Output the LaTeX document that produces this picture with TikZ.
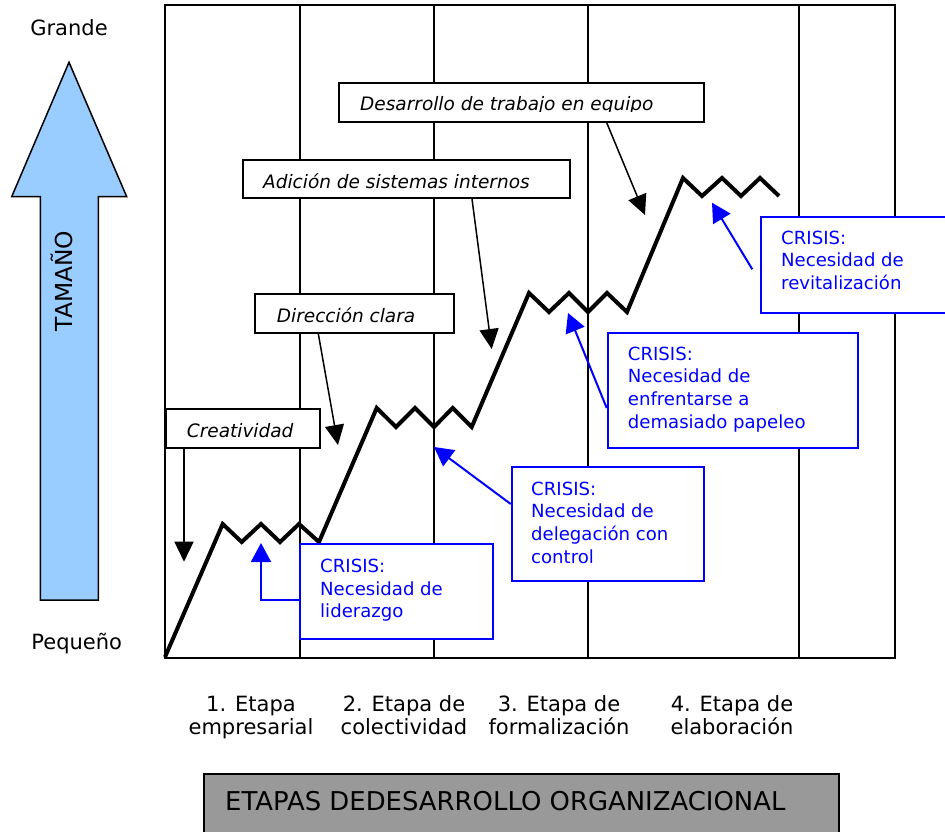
\documentclass[tikz,border=0pt]{standalone}
\usepackage{fontspec}
\setmainfont{DejaVu Sans}
\usetikzlibrary{arrows.meta,calc}
\definecolor{arrowblue}{RGB}{153,204,255}
\definecolor{boxgray}{RGB}{153,153,153}
\definecolor{crisisblue}{RGB}{0,0,255}
\tikzset{
  frameline/.style={line width=2pt},
  lbox/.style={draw, fill=white, line width=2pt, inner sep=0pt, anchor=north west},
  itx/.style={inner sep=0pt, anchor=base west, font=\fontsize{18.5}{22}\selectfont\itshape},
  bbox/.style={draw=crisisblue, fill=white, line width=2pt, inner sep=0pt, anchor=north west},
  btx/.style={inner sep=0pt, anchor=base west, text=crisisblue, font=\fontsize{18.1}{22.7}\selectfont},
  blk/.style={line width=1.5pt, -{Triangle[length=20pt,width=19pt]}},
  blu/.style={draw=crisisblue, line width=2pt, -{Triangle[length=19pt,width=20pt]}},
  zig/.style={line width=4pt},
  stage/.style={inner sep=0pt, anchor=base, font=\fontsize{21}{22}\selectfont},
  side/.style={inner sep=0pt, anchor=base, font=\fontsize{21}{24}\selectfont},
}
\begin{document}
\begin{tikzpicture}[x=1pt,y=-1pt]
\clip (0,0) rectangle (945,832);
\fill[white] (0,0) rectangle (945,832);

% size arrow
\draw[line width=1.5pt, fill=arrowblue] (69,62.3) -- (126.7,196.7) -- (98.3,196.7) -- (98.3,600)
  -- (40.3,600) -- (40.3,196.7) -- (11.7,196.7) -- cycle;
\node[side, rotate=90, font=\fontsize{23.4}{26}\selectfont] (tam) at (72,281) {TAMAÑO};
\node[side] (grande) at (69,35.7) {Grande};
\node[side] (peq) at (76.7,649) {Pequeño};

% frame
\draw[frameline] (165,5) rectangle (895,658);
\foreach \x in {300,434,588,799} \draw[frameline] (\x,5) -- (\x,658);

% black label boxes
\node[lbox, minimum width=365.3, minimum height=38.7] (des) at (337.7,82) {};
\begin{scope}\clip (des.north west) rectangle ($(des.south east)+(0,-11.4)$);
\node[itx] (desT) at (360,111) {Desarrollo de trabajo en equipo};
\end{scope}
\node[lbox, minimum width=327.3, minimum height=38.3] (adi) at (241.7,158.7) {};
\begin{scope}\clip (adi.north west) rectangle ($(adi.south east)+(0,-9.7)$);
\node[itx] (adiT) at (263,188) {Adición de sistemas internos};
\end{scope}
\node[lbox, minimum width=199, minimum height=38.7] (dir) at (254,293) {};
\begin{scope}\clip (dir.north west) rectangle ($(dir.south east)+(0,-10.7)$);
\node[itx] (dirT) at (276.7,322) {Dirección clara};
\end{scope}
\node[lbox, minimum width=154, minimum height=38.7] (cre) at (165,408) {};
\begin{scope}\clip (cre.north west) rectangle ($(cre.south east)+(0,-11.7)$);
\node[itx] (creT) at (186.7,437) {Creatividad};
\end{scope}

% growth line
\draw[zig] (165,657) -- (222.7,524) -- (241.7,542) -- (261,524) -- (280,542) -- (299,524) -- (319,542)
  -- (376.7,408) -- (396,427) -- (415,408) -- (434,427) -- (452.7,408) -- (471.7,427)
  -- (529,293) -- (549,312) -- (569,293) -- (588,312) -- (607,293) -- (627,312)
  -- (683,178) -- (702,196) -- (722,178) -- (741,196) -- (760,178) -- (779,196);

% black arrows
\coordinate (creP) at (184,561.7);
\coordinate (dirP) at (338,445);
\coordinate (adiP) at (491.7,349);
\coordinate (desP) at (645,215);
\draw[blk] (cre.south -| creP) -- (creP);
\draw[blk] ($(dir.south west)+(64.3,0)$) -- (dirP);
\draw[blk] ($(adi.south west)+(230.3,0)$) -- (adiP);
\draw[blk] ($(des.south west)+(269,0)$) -- (desP);

% crisis boxes
\node[bbox, minimum width=193, minimum height=95.3] (lid) at (299.3,542.7) {};
\node[btx] (lidT) at (320,572.3) {\begin{tabular}[t]{@{}l@{}}CRISIS:\\Necesidad de\\liderazgo\end{tabular}};
\node[bbox, minimum width=192.3, minimum height=114] (del) at (510.7,466) {};
\node[btx] (delT) at (531,495) {\begin{tabular}[t]{@{}l@{}}CRISIS:\\Necesidad de\\delegación con\\control\end{tabular}};
\node[bbox, minimum width=250, minimum height=115] (enf) at (606.7,331.7) {};
\node[btx] (enfT) at (627.7,360) {\begin{tabular}[t]{@{}l@{}}CRISIS:\\Necesidad de\\enfrentarse a\\demasiado papeleo\end{tabular}};
\node[bbox, minimum width=200, minimum height=95.7] (rev) at (760,216) {};
\node[btx] (revT) at (781,244) {\begin{tabular}[t]{@{}l@{}}CRISIS:\\Necesidad de\\revitalización\end{tabular}};

% blue arrows
\coordinate (lidP) at (261,543);
\coordinate (delP) at (434,447);
\coordinate (enfP) at (568,313);
\coordinate (revP) at (712,202.7);
\coordinate (revS) at (752.3,269.3);
\draw[blu] ($(lid.north west)+(0,57.3)$) -| (lidP);
\draw[blu] ($(del.north west)+(0,38)$) -- (delP);
\draw[blu] ($(enf.north west)+(0,76.3)$) -- (enfP);
\draw[blu] (revS) -- (revP);

% stage labels
\node[stage] (s1) at (251,711.5) {\begin{tabular}[t]{@{}c@{}}1. Etapa\\empresarial\end{tabular}};
\node[stage] (s2) at (404,711.5) {\begin{tabular}[t]{@{}c@{}}2. Etapa de\\colectividad\end{tabular}};
\node[stage] (s3) at (559,711.5) {\begin{tabular}[t]{@{}c@{}}3. Etapa de\\formalización\end{tabular}};
\node[stage] (s4) at (732,711.5) {\begin{tabular}[t]{@{}c@{}}4. Etapa de\\elaboración\end{tabular}};

% title box
\node[draw, fill=boxgray, line width=2pt, inner sep=0pt, anchor=north west, minimum width=635, minimum height=80] (title) at (203,772.7) {};
\node[inner sep=0pt, anchor=base west, font=\fontsize{25.9}{28}\selectfont] (titleT) at (225,810) {ETAPAS DEDESARROLLO ORGANIZACIONAL};
\end{tikzpicture}
\end{document}
